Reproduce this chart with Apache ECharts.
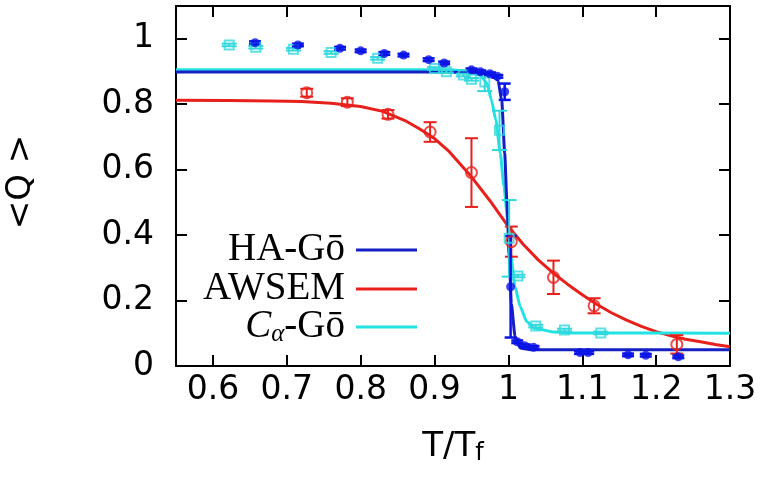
<!DOCTYPE html>
<html><head><meta charset="utf-8">
<script src="https://cdn.jsdelivr.net/npm/echarts@6/dist/echarts.min.js"></script>
<style>html,body{margin:0;padding:0;background:#fff}#c{width:766px;height:488px}</style>
</head><body><div id="c"></div>
<script>
const xTicks = [0.6, 0.7, 0.8, 0.9, 1.0, 1.1, 1.2, 1.3];
const yTicks = [0, 0.2, 0.4, 0.6, 0.8, 1.0];
const legendNames = ['HA-Gō', 'AWSEM', 'Cα-Gō'];

// HA-Gō simulation points
const haX   = [0.657, 0.715, 0.772, 0.800, 0.832, 0.858, 0.892, 0.913, 0.950, 0.962, 0.975, 0.985, 0.995, 1.003, 1.012, 1.022, 1.034, 1.097, 1.108, 1.162, 1.186, 1.230];
const haY   = [0.988, 0.981, 0.971, 0.963, 0.955, 0.950, 0.936, 0.926, 0.905, 0.899, 0.893, 0.885, 0.838, 0.242, 0.074, 0.062, 0.057, 0.041, 0.041, 0.034, 0.033, 0.028];
const haErr = [0.004, 0.004, 0.004, 0.004, 0.004, 0.004, 0.004, 0.004, 0.004, 0.004, 0.004, 0.004, 0.025, 0.155, 0.004, 0.004, 0.004, 0.004, 0.004, 0.004, 0.004, 0.004];
// HA-Gō fit curve
const haFitX = [0.55, 0.90, 0.95, 0.97, 0.98, 0.986, 0.991, 0.995, 0.998, 1.001, 1.004, 1.009, 1.016, 1.03, 1.3];
const haFitY = [0.898, 0.898, 0.897, 0.893, 0.886, 0.872, 0.81, 0.65, 0.50, 0.34, 0.19, 0.09, 0.055, 0.05, 0.05];

// AWSEM simulation points
const awX   = [0.727, 0.782, 0.837, 0.894, 0.950, 1.004, 1.061, 1.116, 1.228];
const awY   = [0.835, 0.806, 0.769, 0.715, 0.591, 0.380, 0.271, 0.184, 0.066];
const awErr = [0.012, 0.012, 0.013, 0.030, 0.105, 0.046, 0.051, 0.023, 0.028];
// AWSEM fit curve
const awFitX = [0.55, 0.62, 0.68, 0.72, 0.76, 0.80, 0.83, 0.86, 0.88, 0.90, 0.92, 0.95, 0.975, 1.00, 1.02, 1.04, 1.06, 1.08, 1.10, 1.12, 1.14, 1.16, 1.18, 1.20, 1.22, 1.24, 1.26, 1.28, 1.30];
const awFitY = [0.812, 0.811, 0.810, 0.808, 0.803, 0.793, 0.778, 0.750, 0.724, 0.695, 0.655, 0.578, 0.505, 0.426, 0.372, 0.325, 0.285, 0.250, 0.218, 0.188, 0.162, 0.140, 0.121, 0.105, 0.092, 0.082, 0.074, 0.066, 0.059];

// Cα-Gō simulation points
const caX   = [0.622, 0.658, 0.709, 0.760, 0.823, 0.900, 0.916, 0.939, 0.950, 0.968, 0.988, 1.001, 1.013, 1.037, 1.076, 1.125];
const caY   = [0.981, 0.974, 0.968, 0.958, 0.940, 0.909, 0.899, 0.889, 0.876, 0.868, 0.720, 0.390, 0.275, 0.122, 0.110, 0.101];
const caErr = [0.004, 0.004, 0.004, 0.004, 0.004, 0.004, 0.004, 0.004, 0.004, 0.028, 0.060, 0.117, 0.004, 0.004, 0.004, 0.004];
// Cα-Gō fit curve
const caFitX = [0.55, 0.92, 0.939, 0.962, 0.971, 0.977, 0.983, 0.989, 0.994, 0.999, 1.003, 1.009, 1.016, 1.025, 1.036, 1.061, 1.09, 1.3];
const caFitY = [0.905, 0.905, 0.903, 0.889, 0.864, 0.813, 0.752, 0.65, 0.548, 0.446, 0.344, 0.242, 0.181, 0.135, 0.115, 0.104, 0.101, 0.100];

const BLUE_L = '#1420c4', BLUE_P = '#0a14e6';
const RED = '#e8201c';
const CYAN_L = '#22e2e2', CYAN_P = '#33d8dc';
const SANS = 'DejaVu Sans';

const zip = (a, b, c) => a.map((v, i) => c ? [v, b[i], c[i]] : [v, b[i]]);

function errSeries(xs, ys, es, color, capW, lw, z) {
  return {
    type: 'custom', silent: true, z: z, clip: true,
    data: zip(xs, ys, es),
    renderItem: function (p, api) {
      const x = api.value(0), y = api.value(1), e = api.value(2);
      const t = api.coord([x, y + e]), b = api.coord([x, y - e]);
      const h = capW / 2;
      const st = { stroke: color, lineWidth: lw };
      return { type: 'group', children: [
        { type: 'line', shape: { x1: t[0], y1: t[1], x2: b[0], y2: b[1] }, style: st },
        { type: 'line', shape: { x1: t[0] - h, y1: t[1], x2: t[0] + h, y2: t[1] }, style: st },
        { type: 'line', shape: { x1: b[0] - h, y1: b[1], x2: b[0] + h, y2: b[1] }, style: st }
      ]};
    }
  };
}

const axLine = { show: true, onZero: false, lineStyle: { color: '#000', width: 2 } };
const tickX = { show: true, inside: true, length: 11, customValues: xTicks, lineStyle: { color: '#000', width: 2 } };
const tickY = { show: true, inside: true, length: 11, customValues: yTicks, lineStyle: { color: '#000', width: 2 } };
const fmt = v => String(+(+v).toFixed(2));

const chart = echarts.init(document.getElementById('c'), null, { renderer: 'canvas' });
chart.setOption({
  backgroundColor: '#fff',
  animation: false,
  grid: { left: 176, right: 36, top: 6, bottom: 122, outerBoundsMode: 'none' },
  xAxis: [
    { type: 'value', min: 0.55, max: 1.3, position: 'bottom', axisLine: axLine, axisTick: tickX,
      splitLine: { show: false },
      axisLabel: { customValues: xTicks, formatter: fmt, fontSize: 33, fontFamily: SANS, color: '#000', margin: 8 } },
    { type: 'value', min: 0.55, max: 1.3, position: 'top', axisLine: axLine, axisTick: tickX,
      splitLine: { show: false }, axisLabel: { show: false } }
  ],
  yAxis: [
    { type: 'value', min: 0, max: 1.1, position: 'left', axisLine: axLine, axisTick: tickY,
      splitLine: { show: false },
      axisLabel: { customValues: yTicks, formatter: fmt, fontSize: 33, fontFamily: SANS, color: '#000', margin: 22 } },
    { type: 'value', min: 0, max: 1.1, position: 'right', axisLine: axLine, axisTick: tickY,
      splitLine: { show: false }, axisLabel: { show: false } }
  ],
  series: [
    { type: 'line', name: legendNames[1], data: zip(awFitX, awFitY), showSymbol: false, smooth: false,
      lineStyle: { color: RED, width: 3 }, z: 2, silent: true },
    { type: 'line', name: legendNames[2], data: zip(caFitX, caFitY), showSymbol: false, smooth: 0.2, smoothMonotone: 'x',
      lineStyle: { color: CYAN_L, width: 3 }, z: 3, silent: true },
    { type: 'line', name: legendNames[0], data: zip(haFitX, haFitY), showSymbol: false, smooth: 0.2, smoothMonotone: 'x',
      lineStyle: { color: BLUE_L, width: 3 }, z: 4, silent: true },
    errSeries(awX, awY, awErr, RED, 13, 2, 5),
    errSeries(caX, caY, caErr, CYAN_P, 15, 2, 5),
    errSeries(haX, haY, haErr, BLUE_P, 12, 2.5, 6),
    { type: 'scatter', data: zip(awX, awY), symbol: 'circle', symbolSize: 11, silent: true, z: 7,
      itemStyle: { color: 'rgba(255,255,255,0)', borderColor: RED, borderWidth: 2 } },
    { type: 'scatter', data: zip(caX, caY), symbol: 'rect', symbolSize: 9, silent: true, z: 7,
      itemStyle: { color: 'rgba(255,255,255,0)', borderColor: CYAN_P, borderWidth: 2 } },
    { type: 'scatter', data: zip(haX, haY), symbol: 'circle', symbolSize: 9, silent: true, z: 8,
      itemStyle: { color: BLUE_P } }
  ],
  graphic: [
    { type: 'text', x: 21, y: 182, rotation: Math.PI / 2,
      style: { text: '<Q >', font: '34px "DejaVu Sans"', fill: '#000', align: 'center', verticalAlign: 'middle' } },
    { type: 'text', x: 453, y: 447,
      style: { text: '{t|T/T}{f|f}', align: 'center', verticalAlign: 'middle',
        rich: { t: { font: '34px "DejaVu Sans"', fill: '#000', lineHeight: 38 },
                f: { font: '24px "DejaVu Sans"', fill: '#000', lineHeight: 14, verticalAlign: 'bottom' } } } },
    { type: 'text', x: 345, y: 250,
      style: { text: legendNames[0], font: '39px "Liberation Serif"', fill: '#000', align: 'right', verticalAlign: 'middle' } },
    { type: 'text', x: 345, y: 289,
      style: { text: legendNames[1], font: '39px "Liberation Serif"', fill: '#000', align: 'right', verticalAlign: 'middle' } },
    { type: 'text', x: 345, y: 327,
      style: { text: '{c|C}{s|α}{n|-Gō}', align: 'right', verticalAlign: 'middle',
        rich: { c: { font: 'italic 39px "Liberation Serif"', fill: '#000', lineHeight: 40 },
                s: { font: 'italic 25px "Liberation Serif"', fill: '#000', lineHeight: 14, verticalAlign: 'bottom' },
                n: { font: '39px "Liberation Serif"', fill: '#000', lineHeight: 40 } } } },
    { type: 'line', shape: { x1: 356, y1: 250, x2: 417, y2: 250 }, style: { stroke: BLUE_L, lineWidth: 3 } },
    { type: 'line', shape: { x1: 356, y1: 289, x2: 417, y2: 289 }, style: { stroke: RED, lineWidth: 3 } },
    { type: 'line', shape: { x1: 356, y1: 327, x2: 417, y2: 327 }, style: { stroke: CYAN_L, lineWidth: 3 } }
  ]
});
</script></body></html>
